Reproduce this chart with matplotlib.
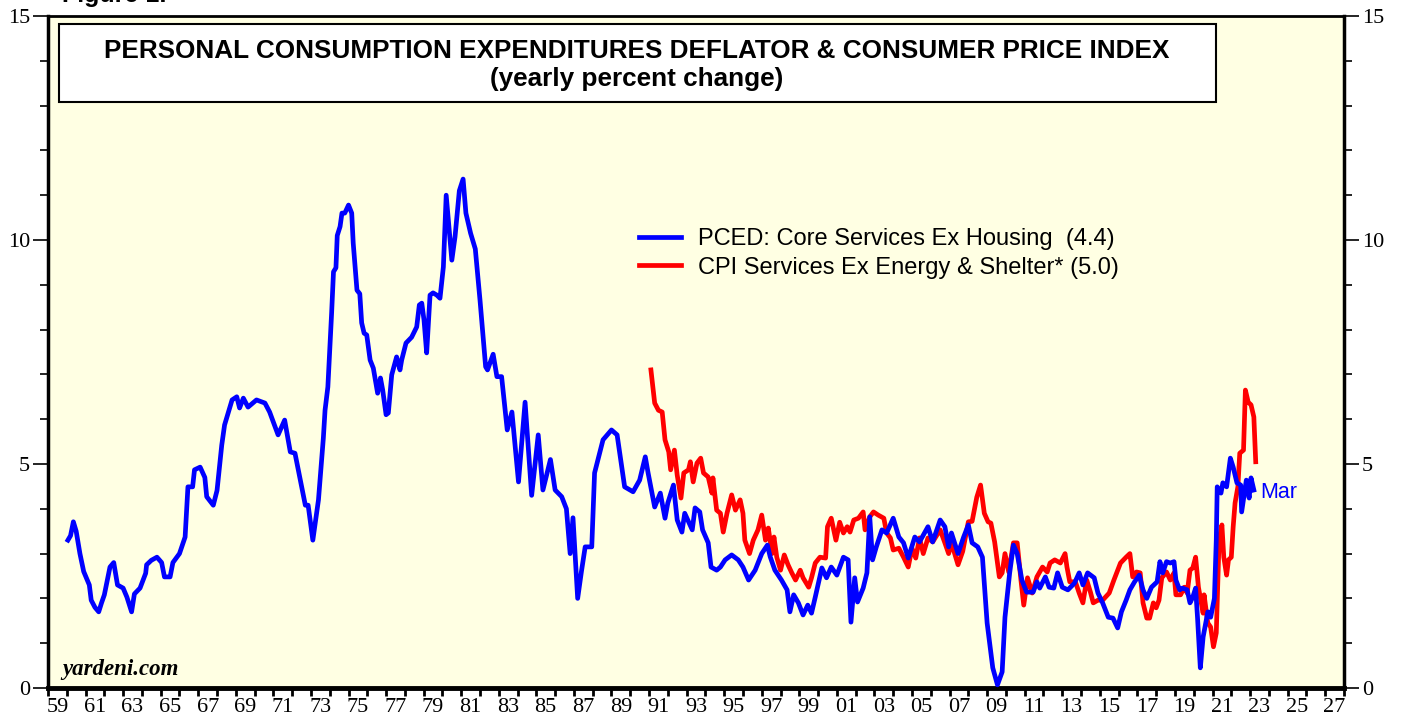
import numpy as np
import matplotlib.pyplot as plt
from matplotlib.patches import Rectangle

# PCED: core services ex housing, yearly % change (decimal year, value)
pced_year = [1960.06, 1960.20, 1960.35, 1960.50, 1960.70, 1960.90, 1961.20, 1961.30, 1961.50, 1961.70,
             1961.85, 1962.00, 1962.30, 1962.50, 1962.70, 1963.00, 1963.20, 1963.45, 1963.60, 1963.90,
             1964.20, 1964.25, 1964.50, 1964.80, 1965.05, 1965.20, 1965.50, 1965.65, 1966.00, 1966.30,
             1966.45, 1966.70, 1966.80, 1967.10, 1967.35, 1967.45, 1967.80, 1968.00, 1968.25, 1968.40,
             1968.80, 1969.05, 1969.20, 1969.40, 1969.65, 1970.10, 1970.55, 1970.80, 1971.25, 1971.60,
             1971.90, 1972.15, 1972.70, 1972.85, 1973.10, 1973.40, 1973.66, 1973.75, 1973.90, 1974.10,
             1974.20, 1974.33, 1974.40, 1974.55, 1974.65, 1974.80, 1975.00, 1975.17, 1975.25, 1975.45,
             1975.60, 1975.70, 1975.83, 1975.97, 1976.15, 1976.32, 1976.55, 1976.70, 1976.82, 1977.00,
             1977.12, 1977.30, 1977.56, 1977.74, 1977.83, 1978.06, 1978.36, 1978.63, 1978.77, 1978.90,
             1979.02, 1979.16, 1979.34, 1979.50, 1979.70, 1979.87, 1980.05, 1980.20, 1980.50, 1980.67,
             1980.90, 1981.10, 1981.25, 1981.50, 1981.75, 1982.00, 1982.30, 1982.40, 1982.70, 1982.90,
             1983.15, 1983.45, 1983.70, 1984.05, 1984.40, 1984.75, 1985.10, 1985.35, 1985.75, 1986.00,
             1986.35, 1986.60, 1986.80, 1986.95, 1987.20, 1987.40, 1987.60, 1987.95, 1988.10, 1988.55,
             1989.00, 1989.30, 1989.70, 1990.15, 1990.50, 1990.80, 1990.95, 1991.30, 1991.60, 1991.85,
             1992.00, 1992.30, 1992.50, 1992.75, 1992.90, 1993.30, 1993.45, 1993.70, 1993.85, 1994.15,
             1994.30, 1994.60, 1994.80, 1995.05, 1995.40, 1995.75, 1996.00, 1996.30, 1996.65, 1997.00,
             1997.30, 1997.45, 1997.70, 1998.05, 1998.35, 1998.50, 1998.70, 1998.95, 1999.20, 1999.45,
             1999.65, 1999.85, 2000.20, 2000.45, 2000.70, 2001.00, 2001.35, 2001.60, 2001.75, 2001.95,
             2002.10, 2002.40, 2002.60, 2002.75, 2002.90, 2003.10, 2003.40, 2003.65, 2004.00, 2004.30,
             2004.55, 2004.80, 2005.15, 2005.40, 2005.85, 2006.10, 2006.50, 2006.75, 2006.95, 2007.10,
             2007.45, 2007.75, 2008.00, 2008.20, 2008.50, 2008.75, 2009.00, 2009.30, 2009.55, 2009.80,
             2009.95, 2010.20, 2010.40, 2010.60, 2010.85, 2011.10, 2011.45, 2011.65, 2011.80, 2012.10,
             2012.30, 2012.55, 2012.75, 2013.00, 2013.30, 2013.65, 2013.90, 2014.10, 2014.35, 2014.70,
             2014.90, 2015.15, 2015.45, 2015.70, 2015.95, 2016.15, 2016.40, 2016.60, 2016.85, 2017.10,
             2017.30, 2017.50, 2017.75, 2018.05, 2018.20, 2018.35, 2018.55, 2018.75, 2018.95, 2019.05,
             2019.25, 2019.40, 2019.65, 2019.80, 2019.95, 2020.10, 2020.20, 2020.35, 2020.50, 2020.75,
             2020.90, 2021.10, 2021.20, 2021.25, 2021.45, 2021.55, 2021.75, 2021.95, 2022.10, 2022.30,
             2022.50, 2022.55, 2022.70, 2022.80, 2022.95, 2023.05, 2023.20]
pced_val = [3.30, 3.40, 3.71, 3.50, 3.00, 2.60, 2.30, 1.96, 1.80, 1.70,
            1.90, 2.08, 2.70, 2.80, 2.30, 2.23, 2.03, 1.70, 2.10, 2.23,
            2.56, 2.75, 2.85, 2.92, 2.80, 2.48, 2.48, 2.80, 3.00, 3.37,
            4.49, 4.49, 4.87, 4.93, 4.70, 4.27, 4.08, 4.41, 5.42, 5.87,
            6.43, 6.50, 6.25, 6.47, 6.27, 6.43, 6.36, 6.16, 5.65, 5.98,
            5.27, 5.24, 4.08, 4.08, 3.30, 4.20, 5.58, 6.20, 6.72, 8.37,
            9.29, 9.38, 10.10, 10.30, 10.60, 10.60, 10.78, 10.60, 9.93, 8.88,
            8.80, 8.15, 7.92, 7.88, 7.32, 7.14, 6.58, 6.92, 6.65, 6.10,
            6.14, 6.99, 7.39, 7.10, 7.32, 7.70, 7.83, 8.06, 8.55, 8.59,
            8.21, 7.48, 8.77, 8.82, 8.77, 8.70, 9.40, 11.00, 9.55, 10.07,
            11.10, 11.36, 10.60, 10.15, 9.80, 8.66, 7.17, 7.10, 7.45, 6.95,
            6.95, 5.76, 6.16, 4.60, 6.38, 4.30, 5.65, 4.42, 5.10, 4.42,
            4.27, 4.00, 3.00, 3.80, 2.00, 2.60, 3.15, 3.15, 4.80, 5.54,
            5.76, 5.65, 4.49, 4.38, 4.64, 5.16, 4.80, 4.04, 4.35, 3.79,
            4.13, 4.53, 3.75, 3.48, 3.90, 3.53, 4.02, 3.93, 3.53, 3.24,
            2.70, 2.63, 2.70, 2.86, 2.97, 2.86, 2.70, 2.41, 2.63, 3.00,
            3.19, 2.93, 2.63, 2.41, 2.19, 1.70, 2.08, 1.90, 1.63, 1.85,
            1.67, 2.03, 2.68, 2.46, 2.70, 2.52, 2.92, 2.86, 1.47, 2.46,
            1.92, 2.23, 2.57, 3.82, 2.86, 3.15, 3.53, 3.46, 3.79, 3.37,
            3.24, 2.90, 3.37, 3.26, 3.60, 3.26, 3.75, 3.60, 3.15, 3.46,
            3.00, 3.37, 3.64, 3.24, 3.15, 2.92, 1.45, 0.45, 0.07, 0.36,
            1.58, 2.57, 3.19, 3.00, 2.41, 2.14, 2.14, 2.37, 2.23, 2.48,
            2.25, 2.23, 2.57, 2.25, 2.19, 2.34, 2.57, 2.30, 2.57, 2.46,
            2.12, 1.90, 1.58, 1.56, 1.34, 1.70, 1.96, 2.19, 2.37, 2.52,
            2.19, 2.00, 2.25, 2.37, 2.82, 2.57, 2.82, 2.79, 2.82, 2.41,
            2.19, 2.23, 2.19, 1.90, 2.03, 2.23, 1.58, 0.45, 1.14, 1.70,
            1.58, 2.00, 3.30, 4.49, 4.35, 4.58, 4.49, 5.13, 4.93, 4.58,
            4.53, 3.93, 4.35, 4.64, 4.24, 4.69, 4.42]

# CPI: services ex energy & shelter, yearly % change
cpi_year = [1991.10, 1991.30, 1991.50, 1991.70, 1991.85, 1992.05, 1992.15, 1992.35, 1992.50, 1992.70,
            1992.85, 1993.10, 1993.20, 1993.35, 1993.55, 1993.75, 1993.90, 1994.15, 1994.35, 1994.40,
            1994.60, 1994.80, 1994.95, 1995.15, 1995.40, 1995.60, 1995.85, 1996.00, 1996.10, 1996.35,
            1996.55, 1996.80, 1997.00, 1997.20, 1997.35, 1997.55, 1997.65, 1997.80, 1998.00, 1998.20,
            1998.40, 1998.60, 1998.80, 1999.05, 1999.20, 1999.50, 1999.65, 1999.85, 2000.10, 2000.40,
            2000.50, 2000.70, 2000.95, 2001.15, 2001.35, 2001.55, 2001.70, 2001.90, 2002.15, 2002.40,
            2002.50, 2002.75, 2002.95, 2003.20, 2003.50, 2003.65, 2003.85, 2004.00, 2004.30, 2004.55,
            2004.80, 2005.00, 2005.20, 2005.40, 2005.60, 2005.85, 2006.10, 2006.50, 2006.75, 2006.95,
            2007.10, 2007.45, 2007.70, 2008.00, 2008.20, 2008.45, 2008.65, 2008.85, 2009.05, 2009.20,
            2009.40, 2009.65, 2009.80, 2009.95, 2010.15, 2010.40, 2010.60, 2010.80, 2010.95, 2011.15,
            2011.40, 2011.65, 2011.95, 2012.20, 2012.35, 2012.60, 2012.90, 2013.15, 2013.25, 2013.40,
            2013.70, 2013.90, 2014.10, 2014.30, 2014.50, 2014.65, 2014.90, 2015.15, 2015.50, 2015.75,
            2015.95, 2016.10, 2016.40, 2016.60, 2016.75, 2016.95, 2017.15, 2017.30, 2017.50, 2017.65,
            2017.85, 2018.00, 2018.15, 2018.30, 2018.55, 2018.75, 2018.95, 2019.05, 2019.30, 2019.50,
            2019.65, 2019.80, 2019.95, 2020.10, 2020.25, 2020.50, 2020.55, 2020.75, 2020.90, 2021.05,
            2021.20, 2021.35, 2021.50, 2021.60, 2021.75, 2021.85, 2022.00, 2022.10, 2022.20, 2022.35,
            2022.45, 2022.65, 2022.75, 2022.90, 2023.05, 2023.20, 2023.30]
cpi_val = [7.10, 6.36, 6.20, 6.16, 5.54, 5.27, 4.87, 5.31, 4.75, 4.24,
           4.80, 4.87, 5.05, 4.60, 5.02, 5.13, 4.80, 4.71, 4.35, 4.69,
           3.97, 3.90, 3.48, 3.90, 4.31, 3.97, 4.20, 3.90, 3.30, 3.00,
           3.30, 3.53, 3.86, 3.30, 3.57, 3.00, 3.37, 2.92, 2.63, 2.97,
           2.75, 2.57, 2.41, 2.63, 2.46, 2.25, 2.46, 2.79, 2.92, 2.90,
           3.60, 3.79, 3.30, 3.70, 3.46, 3.60, 3.48, 3.75, 3.79, 3.93,
           3.53, 3.82, 3.93, 3.86, 3.79, 3.46, 3.35, 3.08, 3.12, 2.92,
           2.70, 3.12, 2.90, 3.35, 3.00, 3.35, 3.26, 3.53, 3.24, 3.00,
           3.24, 2.75, 3.05, 3.71, 3.72, 4.26, 4.53, 3.90, 3.71, 3.68,
           3.26, 2.48, 2.57, 3.00, 2.59, 3.24, 3.24, 2.41, 1.85, 2.46,
           2.12, 2.48, 2.70, 2.59, 2.79, 2.86, 2.79, 3.00, 2.70, 2.37,
           2.37, 2.12, 1.90, 2.41, 2.14, 1.90, 1.96, 1.96, 2.12, 2.41,
           2.63, 2.79, 2.92, 3.00, 2.48, 2.59, 2.57, 1.90, 1.56, 1.56,
           1.90, 1.79, 1.96, 2.46, 2.59, 2.41, 2.57, 2.08, 2.08, 2.25,
           2.12, 2.63, 2.68, 2.92, 2.25, 1.67, 2.08, 1.45, 1.36, 0.92,
           1.23, 3.30, 3.64, 2.92, 2.52, 2.86, 2.92, 3.60, 4.13, 4.49,
           5.24, 5.31, 6.65, 6.38, 6.32, 6.05, 5.05]

fig = plt.figure(figsize=(14.03, 7.19), dpi=100)
ax = fig.add_axes([48 / 1403, 31 / 719, 1296 / 1403, 672 / 719])
ax.set_facecolor('#ffffe3')

ax.plot(pced_year, pced_val, color='#0000ff', lw=3.4, solid_joinstyle='round',
        label='PCED: Core Services Ex Housing  (4.4)', zorder=3)
ax.plot(cpi_year, cpi_val, color='#ff0000', lw=3.4, solid_joinstyle='round',
        label='CPI Services Ex Energy & Shelter* (5.0)', zorder=2)

ax.set_xlim(1959, 2028)
ax.set_ylim(0, 15)

# x axis: ticks every year, labels centered mid-year on odd years
ax.set_xticks(np.arange(1959, 2029, 1), minor=True)
ax.set_xticks(np.arange(1959.5, 2028, 2))
ax.set_xticklabels(['%02d' % (int(y) % 100) for y in np.arange(1959.5, 2028, 2)])
ax.tick_params(axis='x', which='major', length=0, pad=7)
ax.tick_params(axis='x', which='minor', length=6, width=2, direction='out')

# y axis on both sides
ax.set_yticks([0, 5, 10, 15])
ax.set_yticks(np.arange(0, 16, 1), minor=True)
ax.tick_params(axis='y', which='major', length=11, width=1.2, direction='out',
               left=True, right=True, labelleft=True, labelright=True, pad=2)
ax.tick_params(axis='y', which='minor', length=6, width=1.2, direction='out',
               left=True, right=True)

for lab in ax.get_xticklabels() + ax.get_yticklabels():
    lab.set_fontfamily('Liberation Serif')
    lab.set_fontsize(16)

ax.spines['left'].set_linewidth(2.5)
ax.spines['right'].set_linewidth(2.5)
ax.spines['bottom'].set_linewidth(3.5)
ax.spines['top'].set_linewidth(2)

# title box
ax.add_patch(Rectangle((0.0085, 0.872), 0.8925, 0.116, transform=ax.transAxes,
                       facecolor='white', edgecolor='black', lw=1.5, zorder=4))
ax.text(0.4545, 0.948, 'PERSONAL CONSUMPTION EXPENDITURES DEFLATOR & CONSUMER PRICE INDEX',
        transform=ax.transAxes, ha='center', va='center', fontsize=18.8,
        fontweight='bold', family='Liberation Sans', zorder=5)
ax.text(0.4545, 0.906, '(yearly percent change)', transform=ax.transAxes,
        ha='center', va='center', fontsize=18.8, fontweight='bold',
        family='Liberation Sans', zorder=5)

leg = ax.legend(loc='upper left', bbox_to_anchor=(0.443, 0.709), frameon=False,
                prop={'family': 'Liberation Sans', 'size': 17},
                handlelength=1.8, handletextpad=0.72, labelspacing=0.28,
                borderpad=0.2)
for h in leg.get_lines():
    h.set_linewidth(3.4)

ax.text(pced_year[-1] + 0.35, pced_val[-1] - 0.05, 'Mar', color='#0000ff',
        fontsize=15.5, family='Liberation Sans', ha='left', va='center')

ax.text(0.011, 0.02, 'yardeni.com', transform=ax.transAxes, fontsize=16.5,
        family='Liberation Serif', fontweight='bold', style='italic',
        ha='left', va='baseline')

fig.text(62 / 1403, 1 - 2 / 719, 'Figure 1.', fontsize=18, fontweight='bold',
         family='Liberation Sans', ha='left', va='baseline')

fig.savefig('out.png', dpi=100)
